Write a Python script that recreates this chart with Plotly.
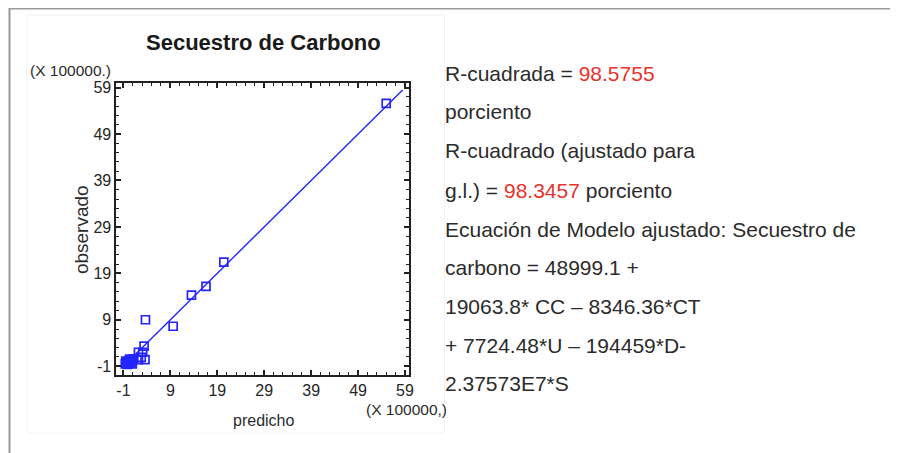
import plotly.graph_objects as go

W, H = 890, 445   # page has an 8px body margin
OFF = 8

# ---- data (units of 100000) ----
predicho = [-0.6, -0.4, -0.2, 0.0, 0.2, 0.4, 0.6, 0.8, 1.0, -0.5, 0.3, 1.2, 0.9,
            2.2, 2.2, 2.8, 3.1, 3.6, 3.4, 3.7, 9.6, 13.5, 16.6, 20.4, 55.0]
observado = [-0.5, -0.2, -0.6, -0.3, 0.0, -0.4, 0.2, -0.1, 0.4, 0.1, 0.5, 0.6, -0.5,
             2.0, 0.4, 0.9, 2.0, 0.4, 3.3, 9.0, 7.6, 14.3, 16.2, 21.4, 55.6]
fit_x = [-1.0, 58.5]
fit_y = [-1.0, 58.5]
tick_vals = [-1, 9, 19, 29, 39, 49, 59]
tick_text = ["-1", "9", "19", "29", "39", "49", "59"]

title_text = "Secuestro de Carbono"
x_title = "predicho"
y_title = "observado"
scale_top = "(X 100000.)"
scale_bottom = "(X 100000,)"

stats_lines = [
    'R-cuadrada = <span style="color:#e8322b">98.5755</span>',
    'porciento',
    'R-cuadrado (ajustado para',
    'g.l.) = <span style="color:#e8322b">98.3457</span> porciento',
    'Ecuación de Modelo ajustado: Secuestro de',
    'carbono = 48999.1 +',
    '19063.8* CC – 8346.36*CT',
    '+ 7724.48*U – 194459*D-',
    '2.37573E7*S',
]

BLUE = "#2424ff"
TXT = "#2b2b2b"

def px(x):
    return (x - OFF) / W

def py(y):
    return 1 - (y - OFF) / H

fig = go.Figure()
fig.add_trace(go.Scatter(x=fit_x, y=fit_y, mode="lines",
                         line=dict(color=BLUE, width=1.4), hoverinfo="skip"))
fig.add_trace(go.Scatter(x=predicho, y=observado, mode="markers",
                         marker=dict(symbol="square-open", size=8, color=BLUE,
                                     line=dict(width=1.7, color=BLUE))))

axis_common = dict(
    showgrid=False, zeroline=False, showline=True, linecolor="#222", linewidth=2,
    mirror="ticks", ticks="inside", ticklen=5, tickwidth=1.5, tickcolor="#222",
    tickvals=tick_vals, ticktext=tick_text,
    tickfont=dict(family="Liberation Sans, Arial", size=16, color="#262626"),
    minor=dict(ticks="inside", dtick=2, ticklen=3, tickwidth=1.3, tickcolor="#222", showgrid=False),
)

fig.update_layout(
    width=W, height=H,
    margin=dict(l=0, r=0, t=0, b=0),
    paper_bgcolor="white", plot_bgcolor="white",
    showlegend=False,
    xaxis=dict(axis_common, range=[-2.5, 59.8], domain=[px(117), px(411)]),
    yaxis=dict(axis_common, range=[-2.8, 60.1], domain=[py(374), py(80)]),
)
fig.update_xaxes(minor_tick0=-1)
fig.update_yaxes(minor_tick0=-1)

# outer frame lines and faint inner panel
fig.add_shape(type="line", xref="paper", yref="paper", x0=px(9), x1=px(898), y0=py(5.5), y1=py(5.5),
              line=dict(color="#9a9a9a", width=2))
fig.add_shape(type="line", xref="paper", yref="paper", x0=px(9.5), x1=px(9.5), y0=py(5), y1=py(453),
              line=dict(color="#9a9a9a", width=2))
fig.add_shape(type="rect", xref="paper", yref="paper", x0=px(27), x1=px(447), y0=py(433), y1=py(12),
              line=dict(color="#f2f2f2", width=1))

ann = []
ann.append(dict(text=f"<b>{title_text}</b>", x=px(265), y=py(40), xref="paper", yref="paper",
                showarrow=False, xanchor="center", yanchor="middle",
                font=dict(family="Liberation Sans, Arial", size=22, color="#1a1a1a")))
ann.append(dict(text=scale_top, x=px(114), y=py(68), xref="paper", yref="paper",
                showarrow=False, xanchor="right", yanchor="middle",
                font=dict(family="Liberation Sans, Arial", size=15.5, color=TXT)))
ann.append(dict(text=scale_bottom, x=px(451), y=py(409), xref="paper", yref="paper",
                showarrow=False, xanchor="right", yanchor="middle",
                font=dict(family="Liberation Sans, Arial", size=15.5, color=TXT)))
ann.append(dict(text=x_title, x=px(265), y=py(420), xref="paper", yref="paper",
                showarrow=False, xanchor="center", yanchor="middle",
                font=dict(family="Liberation Sans, Arial", size=16, color=TXT)))
ann.append(dict(text=y_title, x=px(82), y=py(228), xref="paper", yref="paper",
                showarrow=False, xanchor="center", yanchor="middle", textangle=-90,
                font=dict(family="Liberation Sans, Arial", size=19, color=TXT)))

baselines = [80, 119, 158, 198, 237, 276, 315, 354, 393]
for line, b in zip(stats_lines, baselines):
    ann.append(dict(text=line, x=px(445), y=py(b - 9.5), xref="paper", yref="paper",
                    showarrow=False, xanchor="left", yanchor="middle",
                    font=dict(family="Liberation Sans, Arial", size=21, color=TXT)))

fig.update_layout(annotations=ann)
fig.write_html("out.html")
